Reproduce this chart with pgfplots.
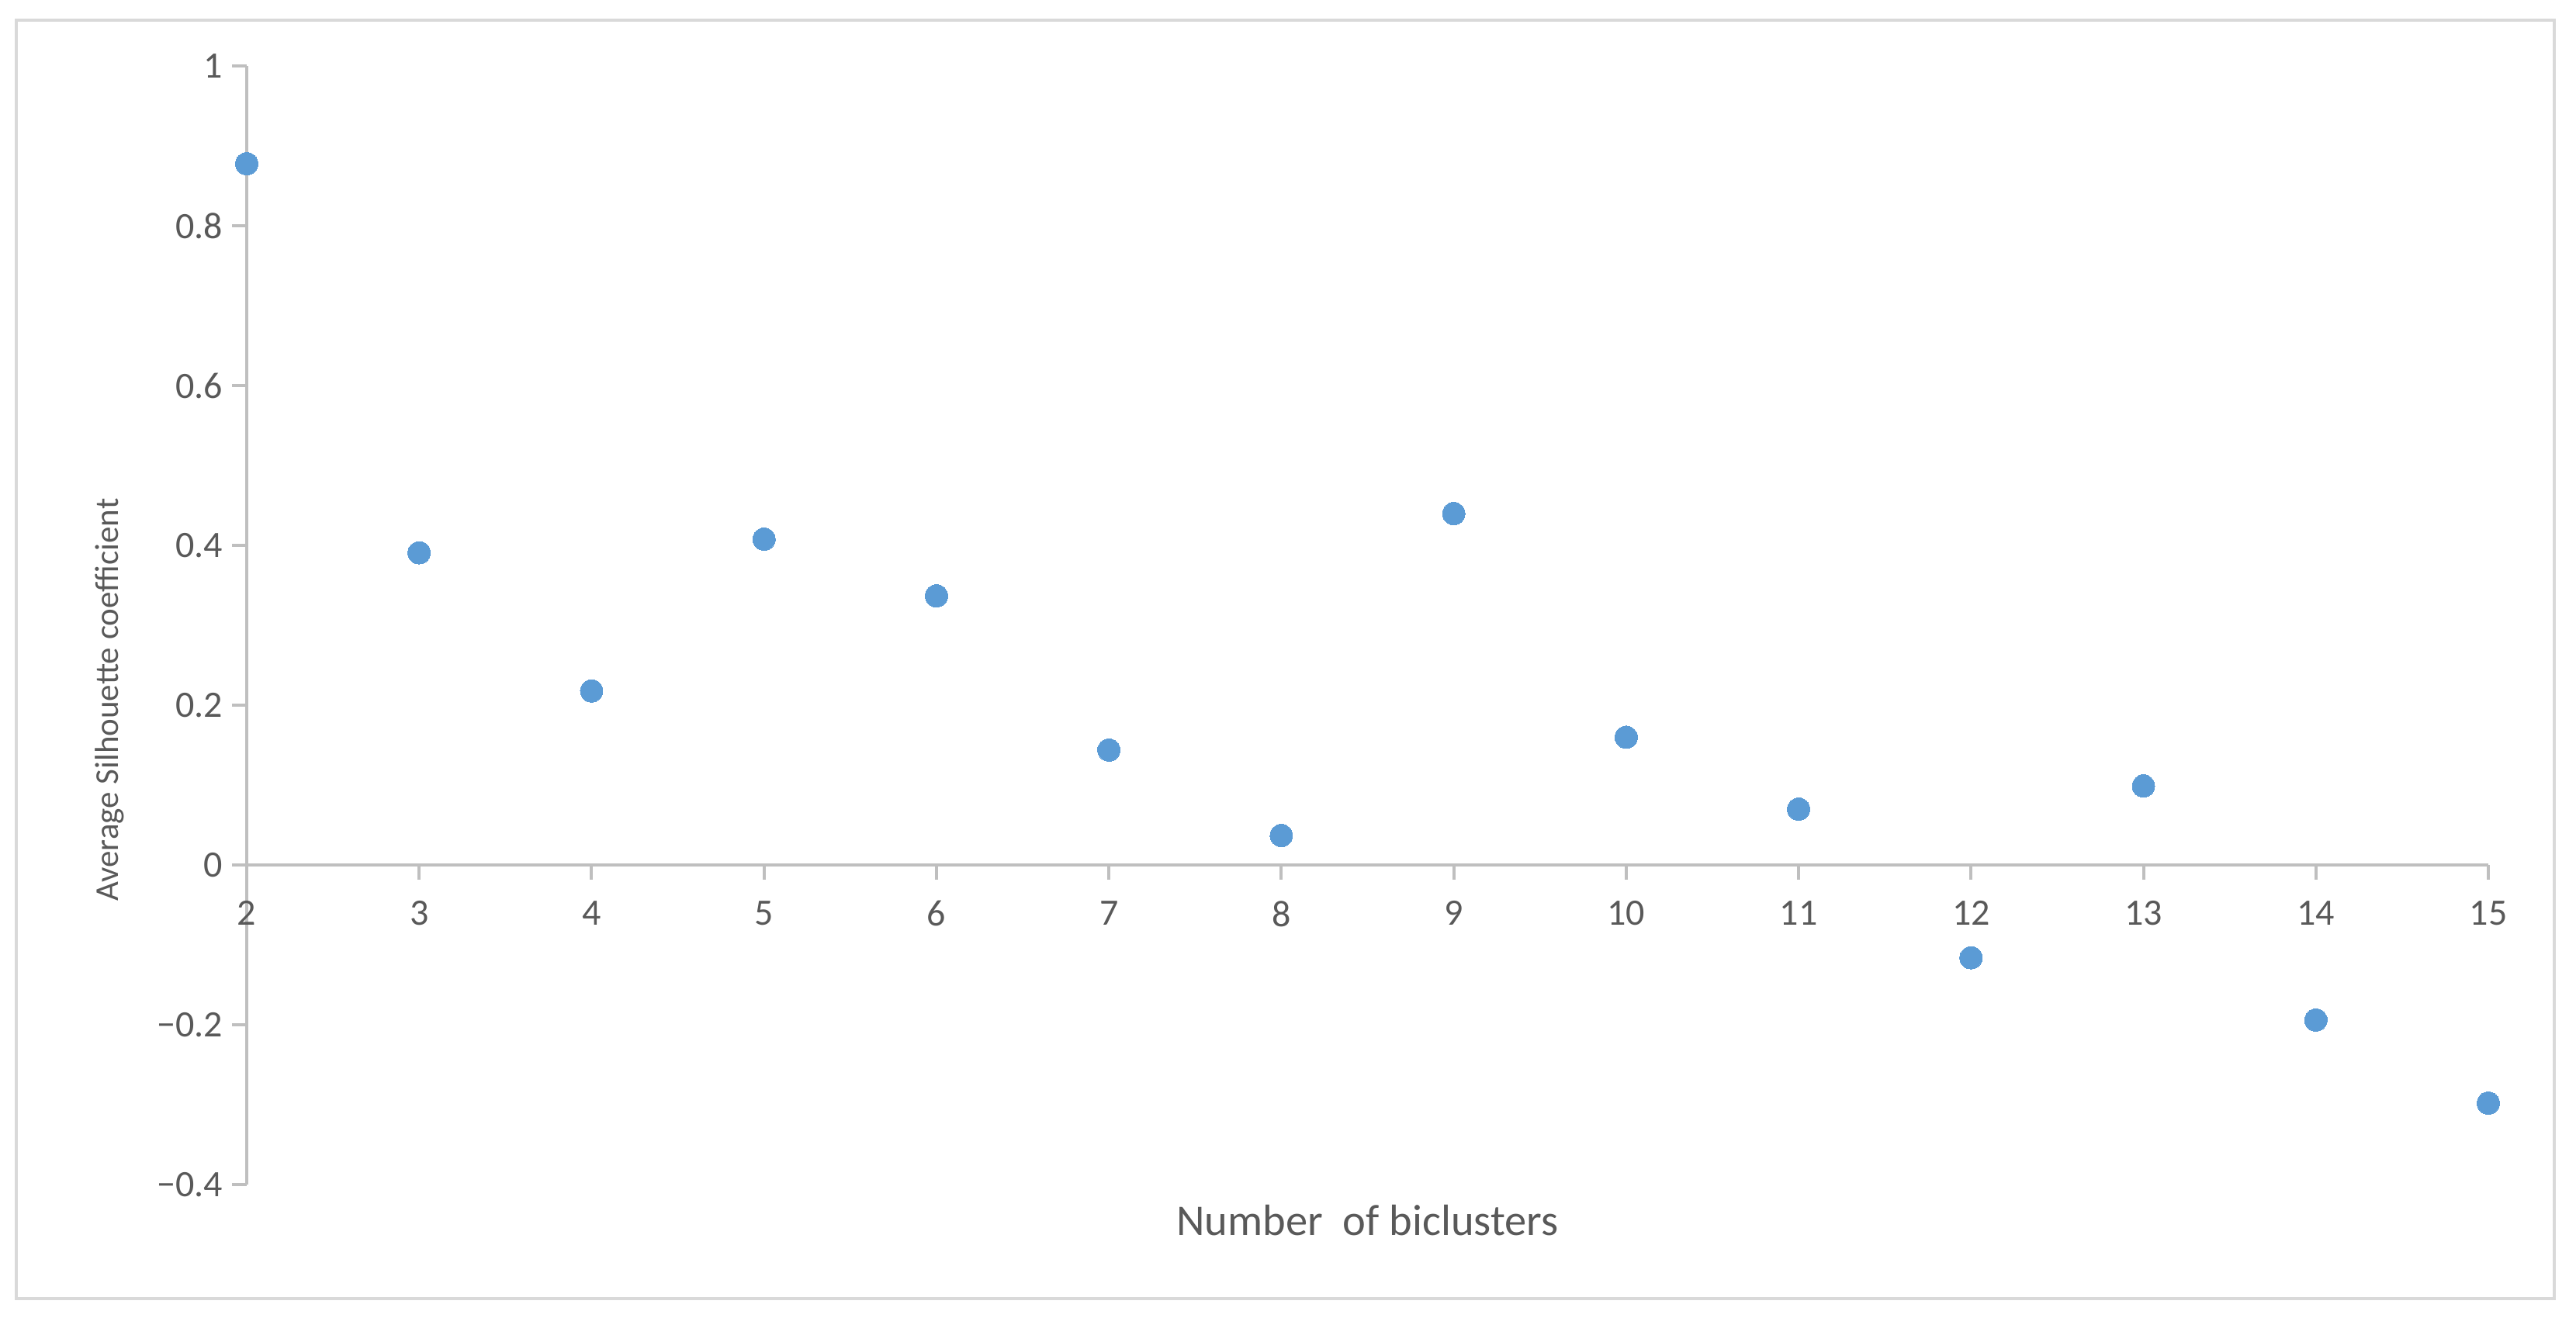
\documentclass[border=0pt]{standalone}
\usepackage{pgfplots}
\pgfplotsset{compat=1.18}
\usepackage{fontspec}
\setmainfont{Carlito}

\definecolor{dotblue}{HTML}{5B9BD5}
\definecolor{axisgray}{HTML}{BFBFBF}
\definecolor{framegray}{HTML}{D9D9D9}
\definecolor{textgray}{HTML}{595959}

\begin{document}
\begin{tikzpicture}
  \useasboundingbox (0,0) rectangle (664pt,339.8pt);
  % chart area frame
  \draw[framegray, line width=0.8pt] (4.2pt,5pt) rectangle (658.4pt,334.6pt);

  \begin{axis}[
    at={(63.6pt,34.4pt)}, anchor=south west,
    scale only axis,
    width=577.8pt, height=288.3pt,
    xmin=2, xmax=15, ymin=-0.4, ymax=1,
    axis y line=left,
    axis x line=middle,
    axis line style={-, axisgray, line width=0.8pt},
    hide obscured x ticks=false,
    hide obscured y ticks=false,
    xtick={2,3,...,15},
    ytick={-0.4,-0.2,0,0.2,0.4,0.6,0.8,1},
    yticklabels={−0.4,−0.2,0,0.2,0.4,0.6,0.8,1},
    tick align=outside,
    major tick length=3.8pt,
    every tick/.style={axisgray, line width=0.8pt},
    /pgf/number format/assume math mode=true,
    tick label style={font=\fontsize{9.6}{11}\selectfont, text=textgray},
    xticklabel style={yshift=-1.9pt},
    yticklabel style={xshift=1.1pt},
    xlabel={Number~ of biclusters},
    ylabel={Average Silhouette coefficient},
    xlabel style={font=\fontsize{11.3}{13}\selectfont, text=textgray,
      at={(axis description cs:0.5,-0.0451)}, anchor=base},
    ylabel style={font=\fontsize{8.6}{10}\selectfont, text=textgray,
      at={(axis description cs:-0.0573,0.4335)}, anchor=base},
    clip=false,
  ]
    \addplot[only marks, mark=*, mark size=2.9pt, color=dotblue,
             mark options={fill=dotblue, draw=dotblue, line width=0pt}]
      coordinates {
        (2,0.878) (3,0.391) (4,0.218) (5,0.408) (6,0.337)
        (7,0.144) (8,0.037) (9,0.440) (10,0.160) (11,0.070)
        (12,-0.116) (13,0.099) (14,-0.194) (15,-0.298)
      };
  \end{axis}
\end{tikzpicture}
\end{document}
